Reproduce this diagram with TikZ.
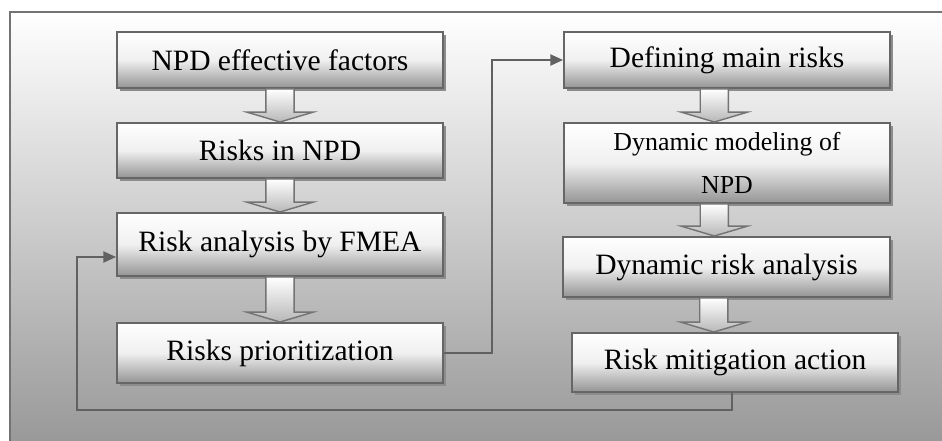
\documentclass[tikz,border=0pt]{standalone}
\usepackage{fontspec}
\setmainfont{Liberation Serif}
\usetikzlibrary{calc}
\usetikzlibrary{arrows.meta}
\usetikzlibrary{shadows}
\tikzset{
 stage/.style={draw=black!60, line width=1.4pt, top color=white, bottom color=black!42, middle color=black!6, minimum width=8.15cm, inner sep=2pt, font=\fontsize{21}{25}\selectfont, drop shadow={shadow xshift=2.2pt, shadow yshift=-2.2pt, fill=black!45, opacity=1}},
 link/.style={draw=black!62, line width=1.1pt, -{Triangle[length=9pt,width=8pt]}},
 blockarr/.style={draw=black!55, line width=1pt, top color=white, bottom color=black!28}
}

\begin{document}
\begin{tikzpicture}[x=0.025cm, y=-0.025cm]
\useasboundingbox (0,0) rectangle (942,441);
\fill[top color=white, bottom color=black!40] (10,12) rectangle (942,441);
\draw[black!55, line width=1.4pt] (942,12) -- (10,12) -- (10,441);

\node[stage, minimum height=1.4cm]   (fac)  at (280,60)    {NPD effective factors};
\node[stage, minimum height=1.375cm] (rsk)  at (280,150.5) {Risks in NPD};
\node[stage, minimum height=1.575cm] (fmea) at (280,244.5) {Risk analysis by FMEA};
\node[stage, minimum height=1.5cm]   (prio) at (280,353)   {Risks prioritization};

\node[stage, minimum height=1.4cm]   (defn) at (727,60)    {Defining main risks};
\node[stage, minimum height=2cm, align=center, font=\fontsize{18.4}{31}\selectfont] (dyn) at (727,163) {Dynamic modeling of\\NPD};
\node[stage, minimum height=1.5cm, minimum width=8.175cm] (dra) at (726.5,267) {Dynamic risk analysis};
\node[stage, minimum height=1.475cm] (mit)  at (735,362.5) {Risk mitigation action};

\foreach \a/\b/\s in {fac/rsk/0pt, rsk/fmea/0pt, fmea/prio/0pt, defn/dyn/-9pt, dyn/dra/-9pt, dra/mit/-9pt} {
 \path[blockarr] let \p1=(\a.south), \p2=(\b.north) in
  (\x1+\s-10pt,\y1) -- (\x1+\s+10pt,\y1) -- (\x1+\s+10pt,\y2+7pt) -- (\x1+\s+23.5pt,\y2+7pt)
  -- (\x1+\s,\y2) -- (\x1+\s-23.5pt,\y2+7pt) -- (\x1+\s-10pt,\y2+7pt) -- cycle;
}

\draw[link] (prio.east) -- ++(48,0) |- (defn.west);
\draw[link] ($(mit.south)+(-3,0)$) -- ++(0,17) -| ($(fmea.west)+(-39,12.5)$) -- ($(fmea.west)+(0,12.5)$);
\end{tikzpicture}
\end{document}
